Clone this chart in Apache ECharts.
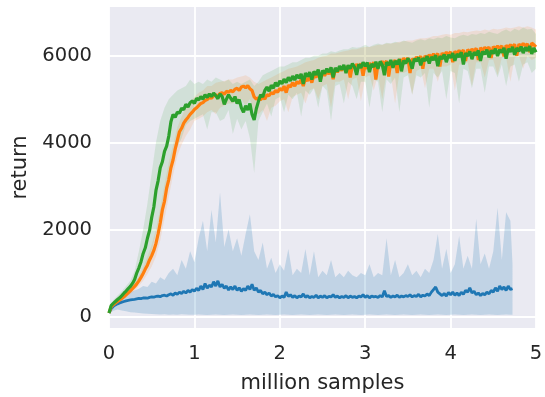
<!DOCTYPE html>
<html><head><meta charset="utf-8">
<script src="https://cdn.jsdelivr.net/npm/echarts@6/dist/echarts.min.js"></script>
<style>html,body{margin:0;padding:0;background:#fff}#c{width:545px;height:397px}</style>
</head><body><div id="c"></div>
<script>
// sampling grids (million samples)
const STEP = 0.025;
const BAND_STEP = 0.05;
const BLUE_END = 4.725;
const xTicks = [0, 1, 2, 3, 4, 5];
const yTicks = [0, 2000, 4000, 6000];

// mean curves, one value every STEP
const greenMean = [
80,250,300,345,390,430,480,535,585,640,690,760,850,1000,1120,1260,1450,1580,1800,1980,
2280,2520,2900,3120,3420,3560,3800,3920,4150,4480,4650,4580,4700,4680,4790,4760,4880,4820,4920,4960,
4900,5020,4980,5060,5000,5100,5040,5120,5060,5140,5080,5010,5120,5060,4880,5000,5100,5020,4950,5060,
4900,4990,4800,4700,4850,4750,4900,4650,4520,4780,4950,5100,5050,5200,5280,5180,5320,5250,5380,5300,
5420,5350,5460,5380,5500,5420,5530,5440,5560,5480,5580,5350,5600,5520,5620,5450,5640,5560,5680,5400,
5660,5590,5700,5620,5730,5500,5720,5640,5760,5680,5790,5600,5780,5700,5820,5740,5560,5800,5720,5850,
5760,5840,5620,5810,5740,5860,5700,5870,5790,5550,5850,5780,5900,5720,5880,5800,5920,5640,5890,5820,
5940,5860,5700,5930,5870,5960,5780,5940,5880,5990,5820,5970,5900,6010,5760,5990,5920,6030,5850,6020,
5950,6060,5880,6040,5970,6080,5800,6060,5990,6100,5920,6080,6010,6120,5880,6100,6030,6140,5960,6120,
6050,6160,5990,6140,6070,6180,5930,6160,6090,6200,6020,6180,6100,6210,6060,6190,6110,6220,6040,6180,
6080];
const orangeMean = [
80,220,270,310,345,380,415,455,500,545,590,640,690,750,820,900,990,1090,1180,1300,
1400,1520,1680,1900,2150,2450,2650,2950,3150,3420,3600,3850,4050,4250,4330,4450,4520,4580,4650,4700,
4760,4800,4850,4900,4920,4970,4990,5040,5020,5080,5100,5060,5130,5150,5110,5180,5160,5200,5170,5230,
5250,5200,5280,5300,5260,5310,5240,5200,5050,5000,5030,4980,5060,5000,5100,5080,5150,5120,5200,5160,
5250,5200,5300,5150,5320,5280,5380,5300,5400,5360,5450,5300,5480,5420,5520,5380,5560,5500,5600,5450,
5620,5540,5640,5580,5680,5460,5700,5620,5720,5660,5750,5680,5760,5500,5780,5720,5800,5740,5820,5540,
5800,5700,5830,5760,5850,5450,5820,5780,5870,5800,5880,5520,5860,5820,5900,5600,5920,5860,5940,5880,
5950,5600,5930,5890,5970,5910,5990,5700,6000,5940,6020,5960,6040,5980,6050,5750,6060,6000,6080,6020,
6090,5850,6100,6050,6120,6060,6130,5880,6140,6080,6150,6100,6170,5900,6180,6120,6190,6140,6200,5950,
6210,6160,6220,6170,6230,5980,6240,6190,6250,6200,6260,6000,6270,6210,6280,6230,6270,6080,6290,6250,
6200];
const blueMean = [
80,180,230,265,290,310,330,345,360,370,380,390,395,405,415,410,425,430,420,440,
450,445,460,470,455,480,490,470,500,520,490,540,510,560,530,580,540,600,560,620,
580,650,600,700,620,760,650,720,680,800,700,820,680,740,650,700,610,680,620,700,
600,660,580,640,600,700,620,740,600,660,560,600,520,560,500,540,470,510,450,480,
430,470,440,560,460,500,440,480,430,470,450,520,440,480,430,460,440,490,430,470,
440,480,430,460,450,500,440,470,430,460,440,480,430,470,440,460,430,470,450,500,
440,480,430,470,450,460,440,480,450,590,460,480,440,470,450,490,440,470,450,480,
460,500,450,480,460,510,450,490,470,520,480,560,620,680,560,520,480,530,470,550,
500,560,490,540,480,560,510,600,560,660,540,580,500,540,480,530,500,560,520,600,
560,660,580,700,620,680,600,700,620,640];

// confidence bands, one value every BAND_STEP
const greenUpper = [
100,380,480,580,700,820,1050,1500,2000,2600,
3300,4000,4500,4800,5000,5100,5200,5250,5300,5450,
5350,5400,5350,5450,5400,5500,5450,5400,5450,5350,
5400,5350,5400,5450,5300,5400,5550,5600,5650,5700,
5750,5750,5800,5850,5850,5900,5950,5950,6000,6000,
6050,6050,6100,6080,6120,6150,6150,6200,6180,6200,
6250,6200,6250,6280,6250,6300,6280,6320,6300,6350,
6320,6300,6350,6380,6350,6400,6380,6420,6400,6450,
6420,6400,6450,6480,6450,6500,6480,6520,6500,6550,
6520,6500,6560,6600,6550,6620,6580,6650,6600,6620,
6500];
const greenLower = [
60,250,320,400,480,560,650,800,950,1200,
1500,1900,2300,2800,3200,3700,3900,4100,4400,4500,
4550,4600,4650,4300,4700,4700,4500,4550,4750,4200,
4550,4300,4500,4100,3300,4500,4700,4900,4600,5000,
5050,4700,5100,5000,5150,4600,5200,5100,5250,4800,
5300,5200,4500,5300,5350,4900,5400,5300,5000,5400,
5400,4800,5450,5400,4700,5450,5350,5500,4700,5500,
5550,5100,5550,5500,5600,4800,5600,5500,5650,5000,
5650,5600,4900,5700,5650,5250,5700,5700,5150,5750,
5750,5500,5800,5300,5750,5800,5400,5800,5850,5600,
5700];
const orangeUpper = [
100,320,400,470,560,660,780,930,1130,1380,
1650,2000,2500,3050,3550,3950,4350,4600,4800,4950,
5050,5150,5200,5300,5300,5380,5400,5420,5450,5450,
5500,5520,5550,5500,5400,5350,5400,5450,5500,5550,
5600,5650,5700,5720,5750,5800,5850,5880,5900,5950,
5980,6000,6050,6050,6080,6100,6120,6150,6150,6180,
6200,6200,6220,6250,6250,6280,6280,6300,6320,6330,
6350,6350,6380,6400,6400,6420,6450,6450,6480,6500,
6480,6520,6520,6550,6540,6560,6580,6570,6600,6580,
6620,6600,6620,6650,6630,6650,6680,6650,6680,6650,
6600];
const orangeLower = [
60,220,290,360,430,510,600,700,820,980,
1150,1380,1750,2250,2750,3250,3700,3950,4150,4300,
4500,4550,4600,4700,4750,4650,4800,4850,4900,4900,
4950,5000,4850,5000,4700,4650,4750,4500,4800,4850,
4950,5000,4700,5050,5100,5150,4900,5200,5250,5000,
5300,5350,4800,5400,5400,5450,5000,5450,5500,4950,
5500,5550,5200,5550,5000,5600,5550,4900,5600,5600,
5650,5100,5650,5700,5250,5700,5700,5400,5750,5750,
5800,5200,5800,5800,5850,5300,5850,5850,5500,5900,
5900,5550,5950,5950,5400,5950,6000,5700,6000,5900,
5950];
const blueUpper = [
100,330,420,480,520,560,600,640,700,680,
800,760,900,840,1000,1100,950,1300,1100,1500,
1250,1800,2200,1500,2450,1700,2850,1600,2000,1500,
1800,1400,1900,2350,1500,1300,1700,1100,1350,1000,
1200,1050,1550,950,1100,1000,1550,950,1500,900,
1050,950,1300,900,1000,900,1050,950,900,1000,
950,1200,900,1000,950,1800,950,1300,900,1000,
1200,950,1050,900,1100,1000,1300,1900,1100,1550,
1000,1200,1850,1100,1400,1100,2250,1200,1450,1100,
1500,2500,1300,2400,2200,1200];
const blueLower = [
60,130,160,140,120,100,90,80,70,60,
55,50,45,50,40,45,40,50,45,40,
40,45,40,35,40,45,40,35,40,45,
40,35,40,45,40,35,40,45,40,35,
40,45,40,35,40,45,40,35,40,45,
40,35,40,45,40,35,40,45,40,35,
40,45,40,35,40,45,40,35,40,45,
40,35,40,45,40,35,40,45,40,35,
40,45,40,35,40,45,40,35,40,45,
40,35,40,45,40,40];

const C_BLUE = '#1f77b4', C_ORANGE = '#ff7f0e', C_GREEN = '#2ca02c';
const FONT = 'DejaVu Sans', TXT = '#262626';

function xsOf(n, step, end) {
  const xs = [];
  for (let i = 0; i < n; i++) xs.push(Math.min(i * step, end));
  return xs;
}
function lineSeries(vals, color, end, width) {
  const xs = xsOf(vals.length, STEP, end);
  return {
    type: 'line', data: vals.map((v, i) => [xs[i], v]), symbol: 'none', silent: true,
    lineStyle: { color: color, width: width }, z: 3
  };
}
function bandSeries(lower, upper, color, op, end) {
  const xs = xsOf(upper.length, BAND_STEP, end);
  return {
    type: 'custom', silent: true, z: 1,
    data: [[xs[0], upper[0]]],
    renderItem: function (params, api) {
      const top = xs.map((x, i) => api.coord([x, upper[i]]));
      const bot = xs.map((x, i) => api.coord([x, lower[i]])).reverse();
      return { type: 'polygon', shape: { points: top.concat(bot) }, style: { fill: color, opacity: op } };
    }
  };
}

const chart = echarts.init(document.getElementById('c'), null, { renderer: 'canvas' });
chart.setOption({
  animation: false,
  backgroundColor: '#ffffff',
  grid: {
    left: 109, right: 9, top: 7, bottom: 69, show: true, backgroundColor: '#eaeaf2', borderWidth: 0,
    containLabel: false, outerBoundsMode: 'none'
  },
  xAxis: {
    type: 'value', min: 0, max: 5,
    name: 'million samples', nameLocation: 'middle', nameGap: 45,
    nameTextStyle: { fontSize: 21, color: TXT, fontFamily: FONT },
    axisLine: { show: false },
    axisTick: { show: false, customValues: xTicks },
    axisLabel: { customValues: xTicks, formatter: v => String(v), fontSize: 19.5, color: TXT, fontFamily: FONT, margin: 16 },
    splitLine: { show: true, lineStyle: { color: '#ffffff', width: 1.8 } }
  },
  yAxis: {
    type: 'value', min: -265, max: 7120,
    name: 'return', nameLocation: 'middle', nameGap: 67,
    nameTextStyle: { fontSize: 21, color: TXT, fontFamily: FONT },
    axisLine: { show: false },
    axisTick: { show: false, customValues: yTicks },
    axisLabel: { customValues: yTicks, formatter: v => String(v), fontSize: 19.5, color: TXT, fontFamily: FONT, margin: 17 },
    splitLine: { show: true, lineStyle: { color: '#ffffff', width: 1.8 } }
  },
  series: [
    bandSeries(blueLower, blueUpper, C_BLUE, 0.2, BLUE_END),
    bandSeries(orangeLower, orangeUpper, C_ORANGE, 0.13, 5),
    bandSeries(greenLower, greenUpper, C_GREEN, 0.13, 5),
    lineSeries(blueMean, C_BLUE, BLUE_END, 2.8),
    lineSeries(orangeMean, C_ORANGE, 5, 3.2),
    lineSeries(greenMean, C_GREEN, 5, 3.2)
  ]
});
</script>
</body></html>
